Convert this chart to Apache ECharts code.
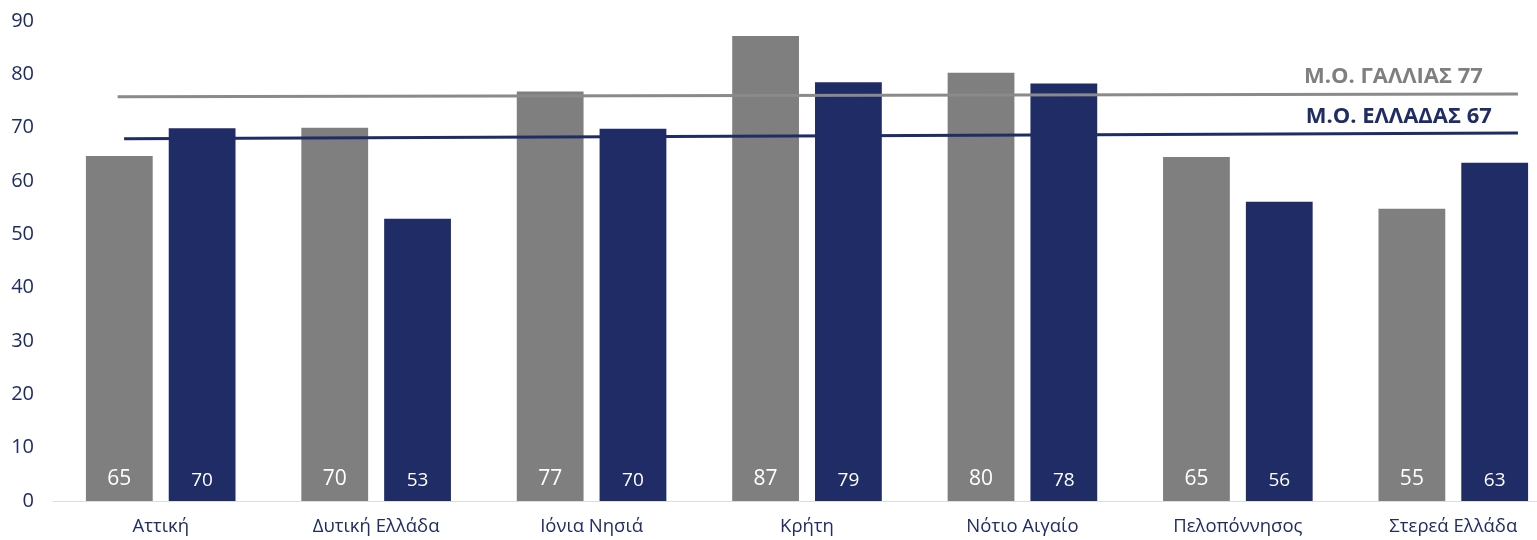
<!DOCTYPE html>
<html>
<head>
<meta charset="utf-8">
<script src="https://cdn.jsdelivr.net/npm/echarts@6/dist/echarts.min.js"></script>
<style>
html,body{margin:0;padding:0;background:#fff;overflow:hidden;}
#chart{width:1537px;height:540px;}
</style>
</head>
<body>
<div id="chart"></div>
<script>
const categories = ['Αττική','Δυτική Ελλάδα','Ιόνια Νησιά','Κρήτη','Νότιο Αιγαίο','Πελοπόννησος','Στερεά Ελλάδα'];
const franceValues = [64.7, 70, 76.8, 87.2, 80.3, 64.5, 54.8];
const greeceValues = [69.9, 52.9, 69.8, 78.5, 78.3, 56.1, 63.4];
const yTicks = {min: 0, max: 90, interval: 10};
const franceAvgLine = [[0.3, 75.8], [6.8, 76.3]];
const greeceAvgLine = [[0.33, 67.9], [6.8, 69.0]];
const franceAvgLabel = 'Μ.Ο. ΓΑΛΛΙΑΣ 77';
const greeceAvgLabel = 'Μ.Ο. ΕΛΛΑΔΑΣ 67';

const NAVY = '#1f2c66';
const GREY = '#7f7f7f';
const FONT = 'Open Sans';

const chart = echarts.init(document.getElementById('chart'));
chart.setOption({
  animation: false,
  backgroundColor: '#fff',
  grid: {left: 53, width: 1508, top: 21, bottom: 39, containLabel: false, outerBoundsMode: 'none'},
  xAxis: [{
    type: 'category',
    data: categories,
    axisLine: {show: true, lineStyle: {color: '#d9dde5', width: 1}},
    axisTick: {show: false},
    axisLabel: {color: NAVY, fontFamily: FONT, fontSize: 18.5, margin: 16}
  }, {
    type: 'value', min: 0, max: 7, show: false
  }],
  yAxis: {
    type: 'value',
    min: yTicks.min, max: yTicks.max, interval: yTicks.interval,
    axisLine: {show: false},
    axisTick: {show: false},
    splitLine: {show: false},
    axisLabel: {color: NAVY, fontFamily: FONT, fontSize: 20, margin: 19}
  },
  series: [{
    type: 'bar',
    data: franceValues,
    barWidth: '31%',
    barGap: '24%',
    itemStyle: {color: GREY},
    label: {
      show: true, position: 'insideBottom', distance: 11,
      color: '#fff', fontFamily: FONT, fontSize: 21,
      formatter: p => Math.round(p.value)
    },
    z: 2
  }, {
    type: 'bar',
    data: greeceValues,
    barWidth: '31%',
    itemStyle: {color: NAVY},
    label: {
      show: true, position: 'insideBottom', distance: 11,
      color: '#fff', fontFamily: FONT, fontSize: 19,
      formatter: p => Math.round(p.value)
    },
    z: 2
  }, {
    type: 'line',
    xAxisIndex: 1,
    data: franceAvgLine,
    symbol: 'none',
    lineStyle: {color: '#8a8a8a', width: 3},
    endLabel: {
      show: true, formatter: franceAvgLabel,
      color: GREY, fontFamily: FONT, fontWeight: 'bold', fontSize: 22,
      align: 'right', verticalAlign: 'middle', distance: 0, offset: [-35, -17]
    },
    z: 5
  }, {
    type: 'line',
    xAxisIndex: 1,
    data: greeceAvgLine,
    symbol: 'none',
    lineStyle: {color: NAVY, width: 3},
    endLabel: {
      show: true, formatter: greeceAvgLabel,
      color: NAVY, fontFamily: FONT, fontWeight: 'bold', fontSize: 22,
      align: 'right', verticalAlign: 'middle', distance: 0, offset: [-26, -16]
    },
    z: 5
  }]
});
</script>
</body>
</html>
